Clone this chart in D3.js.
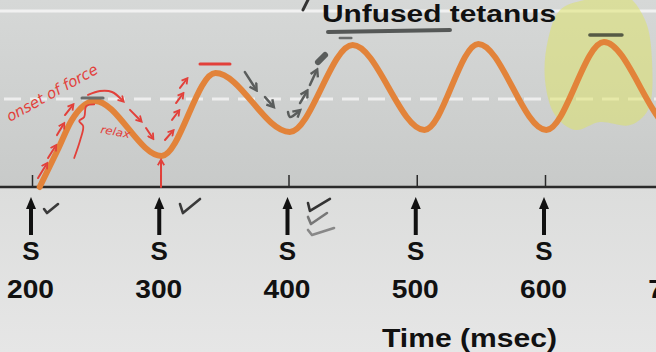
<!DOCTYPE html>
<html><head><meta charset="utf-8">
<script src="https://cdn.jsdelivr.net/npm/d3@7"></script>
<style>html,body{margin:0;padding:0;background:#e2e2e2;overflow:hidden}svg{display:block}</style>
</head><body>
<script>
// ---- data ----
const times = [206, 220, 231, 249, 301, 343, 401, 450, 506, 548, 601, 646, 702, 750];
const force = [0, 21, 38, 48.9, 17.6, 64.8, 31.3, 80.7, 32.4, 81.3, 32.4, 82.4, 32, 81];
const stimTimes = [200, 300, 400, 500, 600];
const tickValues = [200, 300, 400, 500, 600, 700];
const tickLabels = ["200", "300", "400", "500", "600", "700"];
const stimLabel = "S";
const title = "Unfused tetanus";
const xTitle = "Time (msec)";
const thresholdLevel = 50;
const topLevel = 100;

// annotation strokes in data units [time, force]
const redArrows = [
  [[204.7,5.1],[210.9,12.5]], [[212.5,16.5],[217.9,22.7]], [[219.5,29.5],[224.2,35.2]], [[225.7,40.9],[231.2,46]],
  [[243.7,52.3],[253,54.5],[262.4,54],[270.2,49.4]],
  [[276.4,43.8],[284.2,38.1]], [[288.9,33.5],[293.6,28.4]],
  [[303.7,26.7],[309.2,31.3]], [[309.2,38.1],[313.8,42.6]], [[312.3,47.7],[317,52.3]], [[315.4,56.3],[320.1,60.8]],
  [[300.6,0],[300.6,14.2]]
];
const redBrace = [[248.5,47],[242.3,46],[240.7,39.8],[236.8,37.5],[239.9,34.6],[237.6,26.7],[232.9,16.5]];
const redBars = [[[331,69.9],[354.4,69.9]]];
const grayArrows = [
  [[366,65.3],[373.9,56.3]], [[381.7,51.1],[387.1,46.6]],
  [[399.6,42.6],[401.2,39.8],[407.4,42.6]], [[409,47.7],[413.6,53.4]], [[416.7,58],[421.4,65.3]]
];
const grayBlob = [[423,71],[428.5,75]];
const grayBars = [[[239,50.6],[255.4,50.6]]];
const underline = [[430.8,88.1],[525.9,89.2]];
const underTick = [[440,84.7],[449,84.7]];
const darkBar = [[635,86.4],[660,86.4]];
const topMark = [[411.3,100.6],[415.2,106.3]];
const highlight = [[611.7,100.6],[631.2,106.3],[662.4,109],[678,94.9],[683.4,72.2],[680.3,43.8],[666.3,35.2],[642.9,36.9],[623.4,32.4],[607.8,40.9],[600,60.8],[602.3,83.5]];
const checks = [
  {pts:[[209.4,-12.5],[211.7,-14.8],[220.3,-9.7]], c:"#3a3a3a"},
  {pts:[[315.4,-9.7],[317.7,-14.8],[331,-6.8]], c:"#3a3a3a"},
  {pts:[[415.2,-9.1],[416.7,-13.6],[432.3,-6.8]], c:"#333"},
  {pts:[[415.2,-17],[417.5,-21],[430,-14.8]], c:"#777"},
  {pts:[[415.2,-24.4],[418.3,-27.3],[435.5,-23.3]], c:"#888"}
];
const onsetText = {t:182.8, f:36.9, text:"onset of force", rot:-29};
const relaxText = {t:253, f:30.7, text:"relax", rot:10};

// ---- layout ----
const W = 656, H = 352;
const svg = d3.select("body").append("svg").attr("width", W).attr("height", H);
const x = d3.scaleLinear().domain([200, 700]).range([32, 673.25]);
const y = d3.scaleLinear().domain([0, 100]).range([187, 11]);
const axisY = y(0);

const defs = svg.append("defs");
const g1 = defs.append("linearGradient").attr("id","bgTop").attr("x1",0).attr("y1",0).attr("x2",0).attr("y2",1);
g1.append("stop").attr("offset","0%").attr("stop-color","#d6d8d7");
g1.append("stop").attr("offset","100%").attr("stop-color","#c8cac9");
const g2 = defs.append("linearGradient").attr("id","bgBot").attr("x1",0).attr("y1",0).attr("x2",0).attr("y2",1);
g2.append("stop").attr("offset","0%").attr("stop-color","#dcdddc");
g2.append("stop").attr("offset","100%").attr("stop-color","#e6e6e6");
defs.append("marker").attr("id","arR").attr("viewBox","0 0 10 10").attr("refX",5).attr("refY",5)
  .attr("markerWidth",4).attr("markerHeight",4).attr("orient","auto")
  .append("path").attr("d","M1,1 L8,5 L1,9").attr("fill","none").attr("stroke","#e2403a").attr("stroke-width",2.2);
defs.append("marker").attr("id","arG").attr("viewBox","0 0 10 10").attr("refX",5).attr("refY",5)
  .attr("markerWidth",4).attr("markerHeight",4).attr("orient","auto")
  .append("path").attr("d","M1,1 L8,5 L1,9").attr("fill","none").attr("stroke","#5a5d5c").attr("stroke-width",2.4);

svg.append("rect").attr("x",0).attr("y",0).attr("width",W).attr("height",axisY).attr("fill","url(#bgTop)");
svg.append("rect").attr("x",0).attr("y",axisY).attr("width",W).attr("height",H-axisY).attr("fill","url(#bgBot)");

// reference lines
svg.append("line").attr("x1",0).attr("x2",W).attr("y1",y(topLevel)).attr("y2",y(topLevel))
  .attr("stroke","#f1f1f1").attr("stroke-width",3);
svg.append("line").attr("x1",0).attr("x2",W).attr("y1",y(thresholdLevel)).attr("y2",y(thresholdLevel))
  .attr("stroke","#eeeeee").attr("stroke-width",3).attr("stroke-dasharray","17 9").attr("stroke-dashoffset",-4);

const lineP = d3.line().x(d=>x(d[0])).y(d=>y(d[1]));
const smooth = d3.line().x(d=>x(d[0])).y(d=>y(d[1])).curve(d3.curveCatmullRom);

// highlight blob
svg.append("path").datum(highlight).attr("d", d3.line().x(d=>x(d[0])).y(d=>y(d[1])).curve(d3.curveCatmullRomClosed))
  .attr("fill","rgba(222,228,98,0.5)");

// title
svg.append("text").attr("x",322).attr("y",22).text(title)
  .attr("font-family","Liberation Sans, Arial, sans-serif").attr("font-weight","bold").attr("font-size",24.5)
  .attr("textLength",234).attr("lengthAdjust","spacingAndGlyphs").attr("fill","#111");

// axis
const axis = d3.axisBottom(x).tickValues(tickValues).tickFormat((d,i)=>tickLabels[i]).tickSize(-12).tickPadding(93);
const ax = svg.append("g").attr("transform",`translate(0,${axisY})`).call(axis);
ax.select(".domain").remove();
ax.selectAll(".tick line").attr("stroke","#2a2a2a").attr("stroke-width",1.5);
ax.selectAll(".tick text").attr("font-family","Liberation Sans, Arial, sans-serif").attr("font-weight","bold")
  .attr("font-size",25).attr("fill","#111").attr("dx",-2).attr("textLength",47).attr("lengthAdjust","spacingAndGlyphs");
svg.append("line").attr("x1",0).attr("x2",W).attr("y1",axisY).attr("y2",axisY).attr("stroke","#2a2a2a").attr("stroke-width",2.5);

// stimulus arrows and labels
const stim = svg.append("g").selectAll("g").data(stimTimes).join("g").attr("transform",d=>`translate(${x(d)-1},0)`);
stim.append("line").attr("x1",0).attr("x2",0).attr("y1",206).attr("y2",235).attr("stroke","#111").attr("stroke-width",4);
stim.append("path").attr("d","M0,197 L5,209 L-5,209 Z").attr("fill","#111");
stim.append("text").attr("x",0).attr("y",260).attr("text-anchor","middle").text(stimLabel)
  .attr("font-family","Liberation Sans, Arial, sans-serif").attr("font-weight","bold").attr("font-size",26).attr("fill","#111");

// x title
svg.append("text").attr("x",382).attr("y",347).text(xTitle)
  .attr("font-family","Liberation Sans, Arial, sans-serif").attr("font-weight","bold").attr("font-size",26)
  .attr("textLength",175).attr("lengthAdjust","spacingAndGlyphs").attr("fill","#111");

// force curve
const pts = times.map((t,i)=>[t, force[i]]);
svg.append("path").datum(pts).attr("d", d3.line().x(d=>x(d[0])).y(d=>y(d[1])).curve(d3.curveMonotoneX))
  .attr("fill","none").attr("stroke","#e2833a").attr("stroke-width",6).attr("stroke-linecap","round");

// annotations
const ann = svg.append("g").attr("fill","none").attr("stroke-linecap","round").attr("stroke-linejoin","round");
ann.selectAll(".ra").data(redArrows).join("path").attr("d",d=>d.length>2?smooth(d):lineP(d))
  .attr("stroke","#e2403a").attr("stroke-width",2).attr("marker-end","url(#arR)");
ann.append("path").datum(redBrace).attr("d",smooth).attr("stroke","#e2403a").attr("stroke-width",1.8);
ann.selectAll(".rb").data(redBars).join("path").attr("d",lineP).attr("stroke","#e2403a").attr("stroke-width",3);
ann.selectAll(".ga").data(grayArrows).join("path").attr("d",d=>d.length>2?smooth(d):lineP(d))
  .attr("stroke","#5a5d5c").attr("stroke-width",2.5).attr("marker-end","url(#arG)");
ann.append("path").datum(grayBlob).attr("d",lineP).attr("stroke","#5a5d5c").attr("stroke-width",6);
ann.selectAll(".gb").data(grayBars).join("path").attr("d",lineP).attr("stroke","#6a6d6c").attr("stroke-width",3);
ann.append("path").datum(underline).attr("d",lineP).attr("stroke","#555857").attr("stroke-width",4);
ann.append("path").datum(underTick).attr("d",lineP).attr("stroke","#6a6d6c").attr("stroke-width",2.5);
ann.append("path").datum(darkBar).attr("d",lineP).attr("stroke","#555a45").attr("stroke-width",3.5);
ann.append("path").datum(topMark).attr("d",lineP).attr("stroke","#333").attr("stroke-width",3);
ann.selectAll(".ck").data(checks).join("path").attr("d",d=>lineP(d.pts)).attr("stroke",d=>d.c).attr("stroke-width",2.6);

[onsetText, relaxText].forEach((a,i)=>{
  svg.append("text").attr("transform",`translate(${x(a.t)},${y(a.f)}) rotate(${a.rot})`).text(a.text)
    .attr("font-family","DejaVu Sans, sans-serif").attr("font-style","italic")
    .attr("font-size", i===0?15:11).attr("fill","#e2403a")
    .attr("textLength", i===0?102:30).attr("lengthAdjust","spacingAndGlyphs");
});
</script>
</body></html>
